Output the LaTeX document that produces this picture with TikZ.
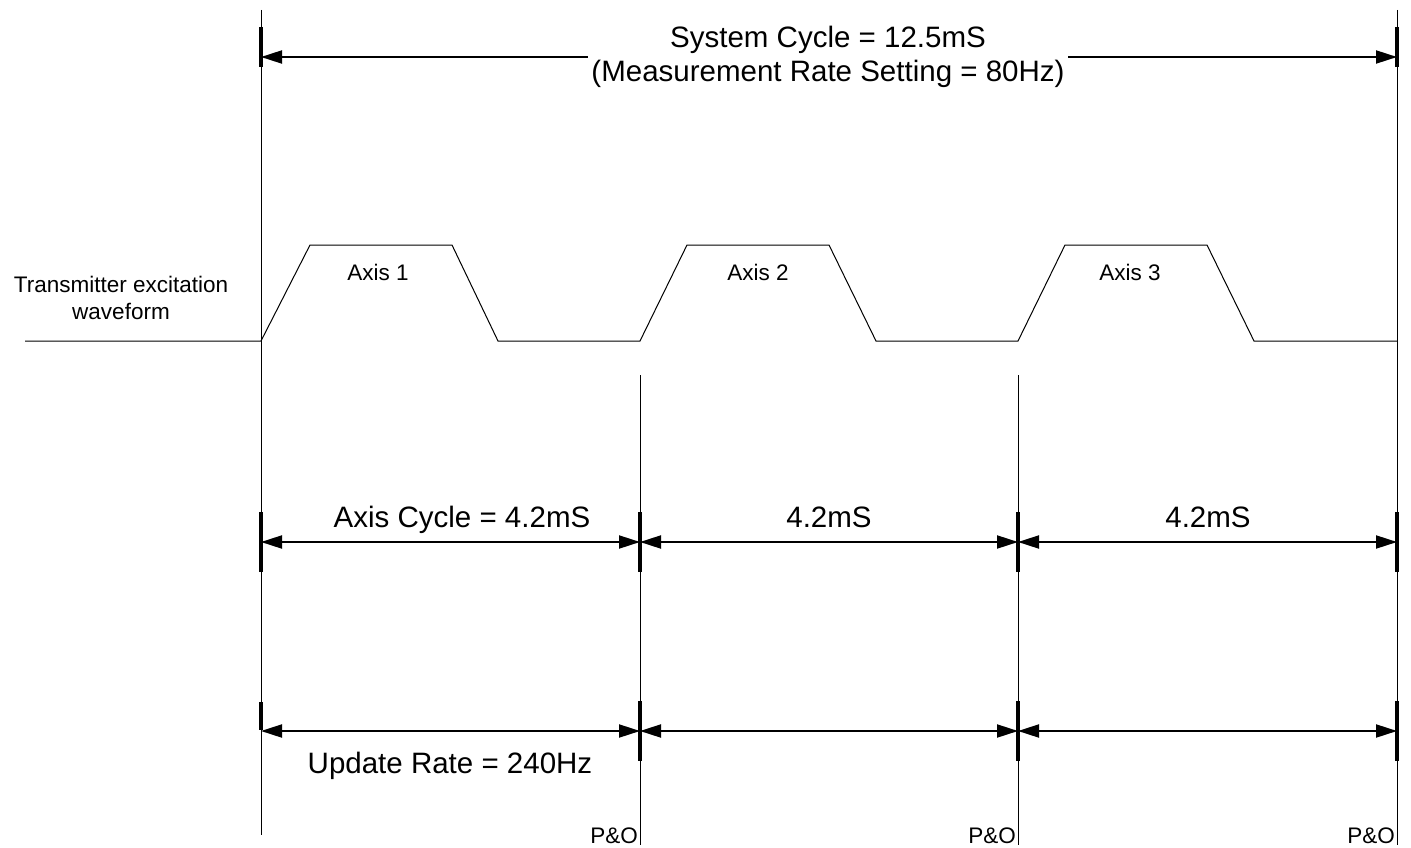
\documentclass[tikz,border=0pt]{standalone}
\usepackage{fontspec}
\setmainfont{Liberation Sans}
\usetikzlibrary{arrows.meta}
\tikzset{
  thinline/.style={line width=1pt, line cap=butt},
  dimline/.style={line width=2pt, {Triangle[length=21pt,width=13pt]}-{Triangle[length=21pt,width=13pt]}, shorten <=0pt, shorten >=0pt},
  tickmark/.style={line width=3.2pt},
  bigtext/.style={font=\fontsize{29.5}{34.5}\selectfont, inner sep=0pt},
  smalltext/.style={font=\fontsize{22.5}{27}\selectfont, inner sep=0pt},
}
\begin{document}
\begin{tikzpicture}[x=1pt,y=-1pt]
\useasboundingbox (0,0) rectangle (1411,848);
% column coordinates
\coordinate (A0) at (261,57);  \coordinate (A3) at (1397,57);
\coordinate (B0) at (261,542); \coordinate (B1) at (640,542); \coordinate (B2) at (1018,542); \coordinate (B3) at (1397,542);
\coordinate (C0) at (261,731); \coordinate (C1) at (640,731); \coordinate (C2) at (1018,731); \coordinate (C3) at (1397,731);
% vertical lines
\coordinate (v0t) at (261,10);  \coordinate (v0b) at (261,835);
\coordinate (v1t) at (640,375); \coordinate (v1b) at (640,845);
\coordinate (v2t) at (1018,375); \coordinate (v2b) at (1018,845);
\coordinate (v3t) at (1397,10); \coordinate (v3b) at (1397,845);
\draw[thinline] (v0t) -- (v0b);
\draw[thinline] (v1t) -- (v1b);
\draw[thinline] (v2t) -- (v2b);
\draw[thinline] (v3t) -- (v3b);
% waveform
\draw[thinline, line join=miter] (25,341) -- (261,341) -- (310,245) -- (452,245) -- (498,341) -- (640,341)
  -- (687,245) -- (829,245) -- (876,341) -- (1018,341) -- (1065,245) -- (1207,245) -- (1254,341) -- (1397,341);
% tick marks
\draw[tickmark] (261,27) -- (261,67);
\draw[tickmark] (1397,27) -- (1397,67);
\foreach \x in {261,640,1018,1397} \draw[tickmark] (\x,512) -- (\x,572);
\draw[tickmark] (261,702) -- (261,730);
\foreach \x in {640,1018,1397} \draw[tickmark] (\x,701) -- (\x,761);
% dimension arrows
\draw[dimline] (A0) -- (A3);
\draw[dimline] (B0) -- (B1);
\draw[dimline] (B1) -- (B2);
\draw[dimline] (B2) -- (B3);
\draw[dimline] (C0) -- (C1);
\draw[dimline] (C1) -- (C2);
\draw[dimline] (C2) -- (C3);
% texts
\node[bigtext, fill=white, inner xsep=3pt, align=center] (sys) at (828,57) {System Cycle = 12.5mS\\(Measurement Rate Setting = 80Hz)};
\node[smalltext, align=center] (tx) at (121,298) {Transmitter excitation\\waveform};
\node[smalltext, anchor=base] (ax1) at (378,280) {Axis 1};
\node[smalltext, anchor=base] (ax2) at (758,280) {Axis 2};
\node[smalltext, anchor=base] (ax3) at (1130,280) {Axis 3};
\node[bigtext, anchor=base] (ac) at (462,527) {Axis Cycle = 4.2mS};
\node[bigtext, anchor=base] (ac2) at (829,527) {4.2mS};
\node[bigtext, anchor=base] (ac3) at (1208,527) {4.2mS};
\node[bigtext, anchor=base] (ur) at (450,773) {Update Rate = 240Hz};
\node[smalltext, anchor=base east] (po1) at (638,843) {P\&O};
\node[smalltext, anchor=base east] (po2) at (1016,843) {P\&O};
\node[smalltext, anchor=base east] (po3) at (1395,843) {P\&O};
\end{tikzpicture}
\end{document}
